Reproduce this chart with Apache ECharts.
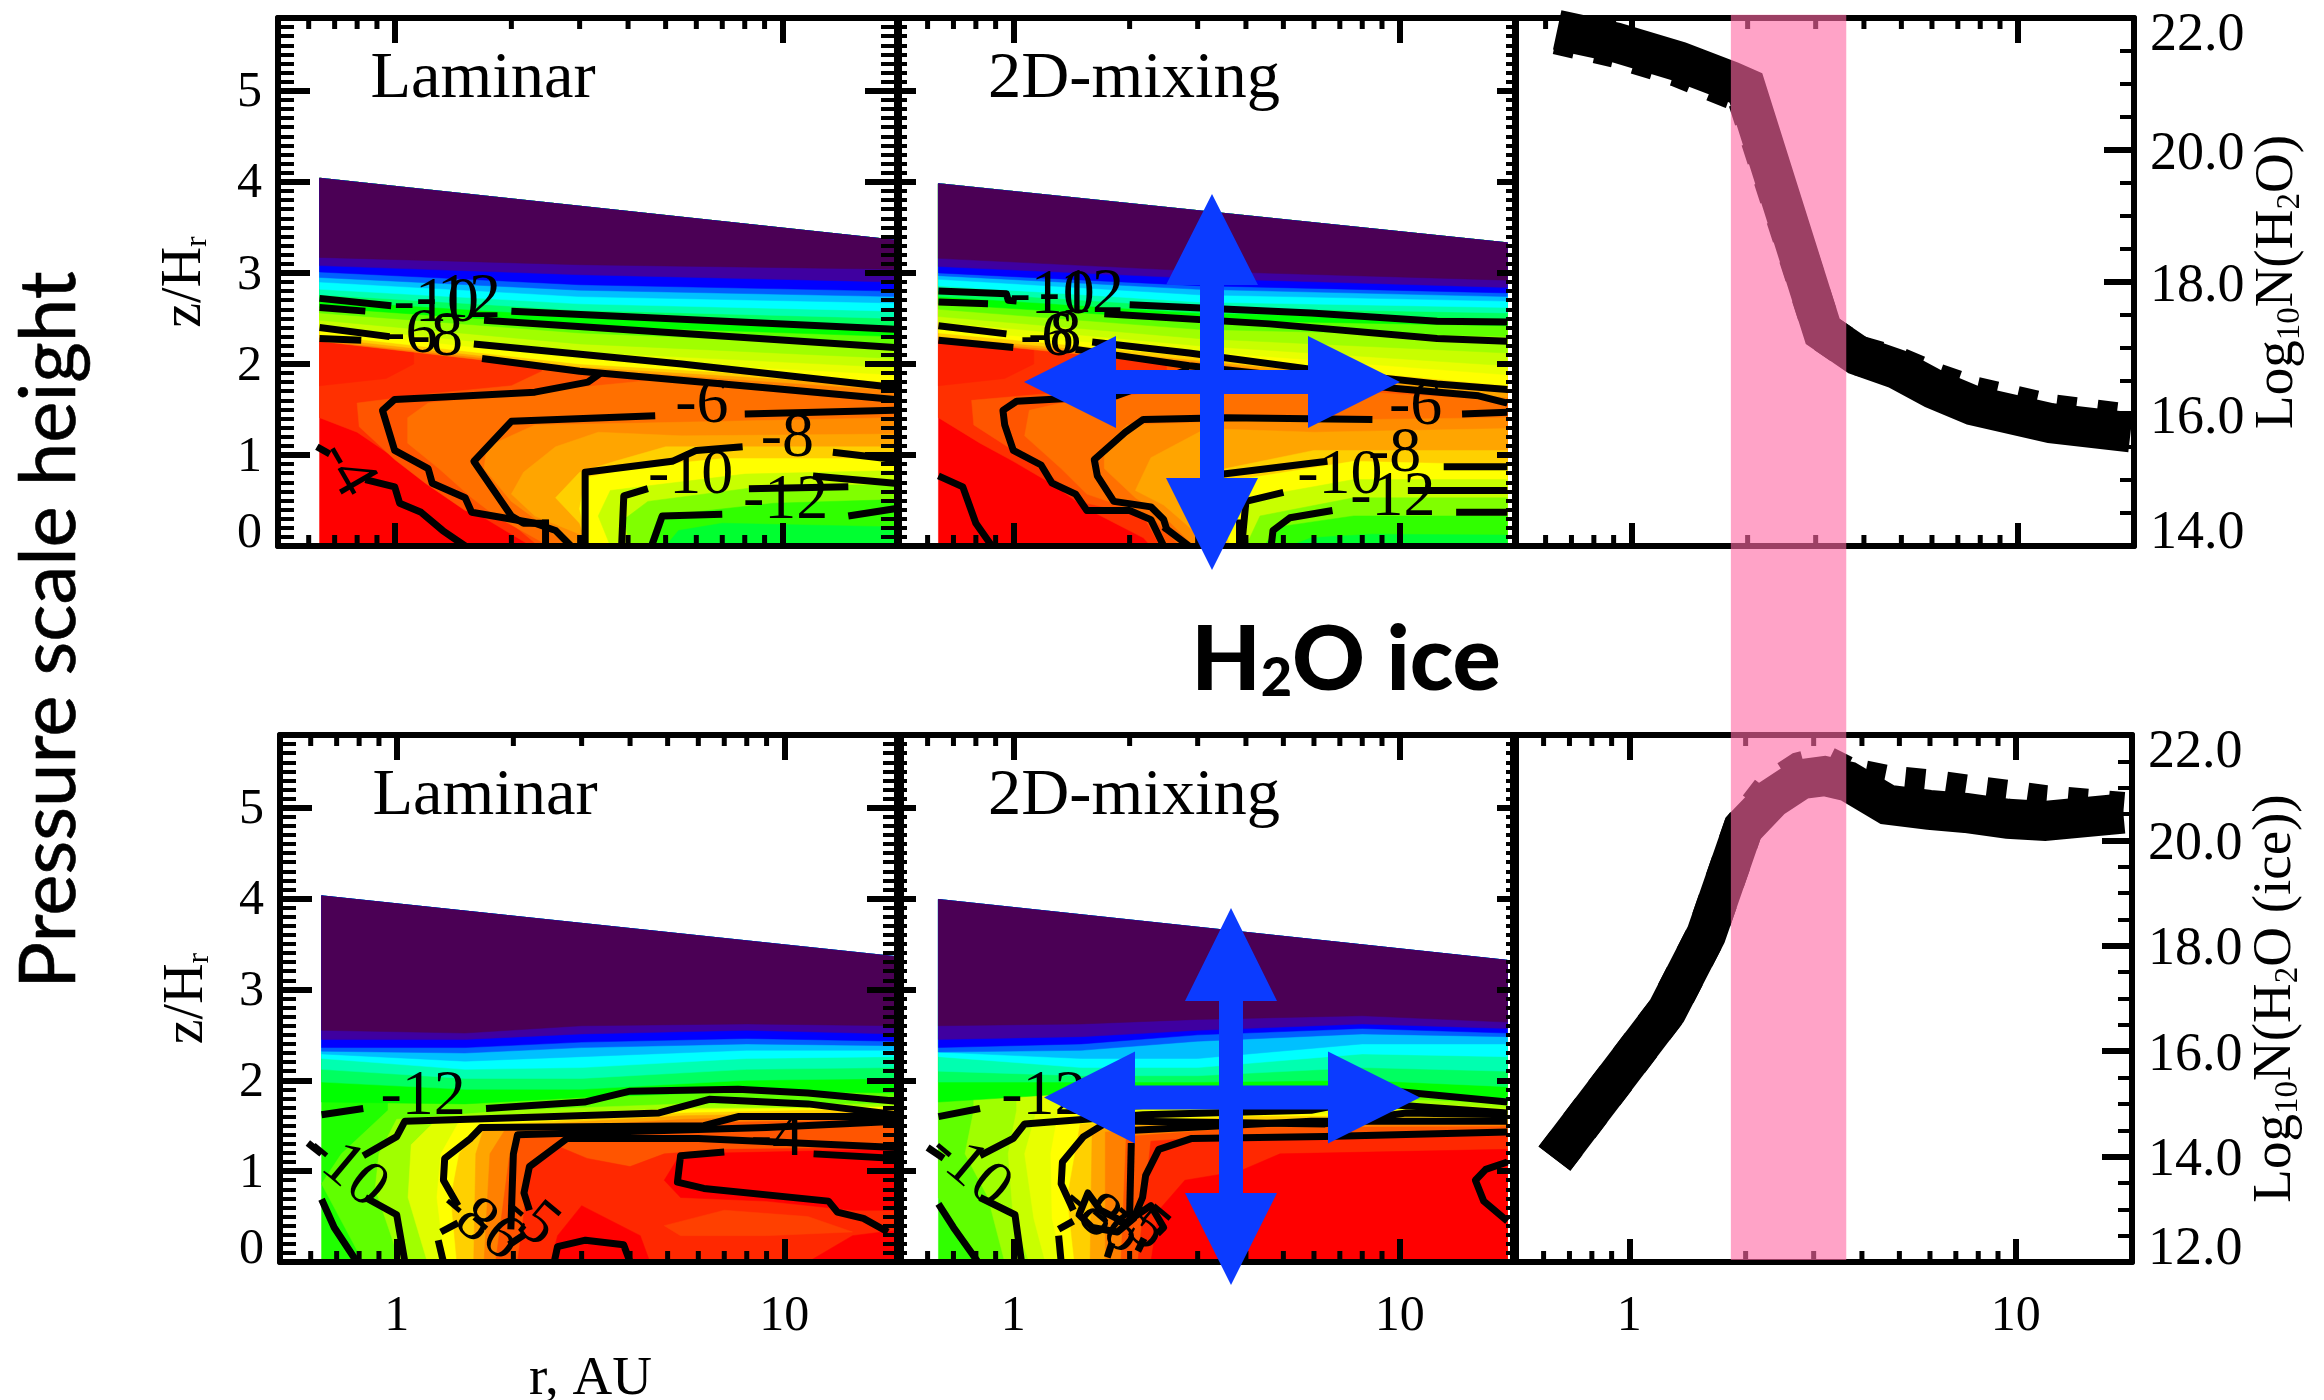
<!DOCTYPE html>
<html><head><meta charset="utf-8"><title>H2O and H2O ice</title>
<style>html,body{margin:0;padding:0;background:#fff}#c{width:2324px;height:1400px}</style>
<script src="https://cdn.jsdelivr.net/npm/echarts@6/dist/echarts.min.js"></script></head>
<body><div id="c"></div>
<script>
// ---------- tick values ----------
const xRange=[0.5,20];
const xMajorLabels=[1,10];
const xMinorTicks=[0.6,0.7,0.8,0.9,2,3,4,5,6,7,8,9];
const zRange=[0,5.8];
const h2oRange=[14,22];
const iceRange=[12,22];
// ---------- filled colour levels (r, AU ; z/Hr) ----------
const strataColors=['#ff8000','#ffa500','#ffd000','#ffff00','#e8ff00','#c8ff00','#a0ff00','#60ff00','#00ff00','#00ff60','#00ffb0','#00ffff','#00c0ff','#0060ff','#0000ff','#3f00a0','#4b0055'];
const laminarTopStations=[0.64,3,19.5];
const laminarTopEdge=[[0.64,4.04],[19.5,3.36]];
const laminarTopStrata=[[2.25,1.92,1.63],[2.26,1.95,1.71],[2.29,1.97,1.76],[2.32,2.0,1.80],[2.37,2.06,1.88],[2.42,2.13,1.96],[2.48,2.22,2.06],[2.56,2.34,2.20],[2.62,2.42,2.30],[2.70,2.52,2.42],[2.76,2.59,2.50],[2.82,2.66,2.58],[2.90,2.74,2.67],[2.95,2.81,2.74],[3.01,2.87,2.80],[3.08,2.98,2.90],[3.17,3.09,3.04]];
const laminarTopPockets=[
['#ff0000',[[0.64,0],[19.5,0],[19.5,3],[0.64,3]]],
['#ff3000',[[0.64,1.41],[0.8,1.25],[1,0.97],[1.2,0.73],[1.5,0.45],[2,0.13],[2.25,0],[19.5,0],[19.5,3],[0.64,3]]],
['#ff2000',[[0.64,3],[0.64,1.76],[0.95,1.84],[1.12,2.0],[1.12,3]]],
['#ff5500',[[0.8,1.57],[0.81,1.31],[1,0.95],[1.2,0.69],[1.52,0.39],[2,0.25],[2.35,0],[19.5,0],[19.5,3],[2.4,3],[2.4,1.92],[2,1.76],[1.22,1.67]]],
['#ff7000',[[1.08,1.41],[1.08,1.13],[1.3,0.85],[1.58,0.53],[1.82,0.33],[2.5,0],[19.5,0],[19.5,1.57],[9.6,1.69],[4.6,1.82],[2,1.67],[1.22,1.57]]],
['#ff8c00',[[19.5,1.41],[4.3,1.35],[2.3,1.33],[1.73,1.09],[1.7,0.85],[2,0.49],[2.25,0.33],[2.8,0],[19.5,0]]],
['#ffa500',[[19.5,1.23],[5.5,1.21],[3.35,1.25],[2.6,1.09],[2.15,0.81],[2,0.57],[2.3,0.33],[3,0.13],[3.1,0],[19.5,0]]],
['#ffd000',[[19.5,1.09],[5,1.09],[3.7,0.93],[3,0.81],[2.6,0.53],[3,0.25],[3.15,0],[19.5,0]]],
['#ffff00',[[19.5,0.96],[7,0.96],[4.3,0.87],[3.1,0.75],[3,0.41],[3.15,0],[19.5,0]]],
['#c8ff00',[[19.5,0.83],[8,0.79],[3.6,0.61],[3.35,0.33],[3.6,0],[19.5,0]]],
['#80ff00',[[19.5,0.67],[9.5,0.67],[4.5,0.49],[3.9,0.29],[4.05,0],[19.5,0]]],
['#30ff00',[[19.5,0.51],[9.5,0.47],[4.8,0.33],[4.5,0],[19.5,0]]],
['#00ff30',[[19.5,0.21],[7,0.25],[5.4,0.17],[5,0],[19.5,0]]]];
const mixingTopStations=[0.64,3,19];
const mixingTopEdge=[[0.64,3.98],[19,3.33]];
const mixingTopStrata=[[2.26,1.98,1.57],[2.27,2.02,1.63],[2.30,2.04,1.70],[2.34,2.08,1.76],[2.38,2.14,1.88],[2.46,2.20,1.98],[2.52,2.28,2.12],[2.60,2.38,2.30],[2.66,2.48,2.42],[2.74,2.56,2.50],[2.80,2.62,2.56],[2.86,2.68,2.62],[2.93,2.76,2.69],[2.97,2.82,2.74],[3.0,2.86,2.78],[3.07,2.94,2.84],[3.16,3.02,2.92]];
const mixingTopPockets=[
['#ff0000',[[0.64,0],[19,0],[19,3],[0.64,3]]],
['#ff3000',[[0.64,1.41],[0.82,1.13],[1,0.93],[1.25,0.69],[1.55,0.41],[2.17,0.09],[2.27,0],[19,0],[19,3],[0.64,3]]],
['#ff2000',[[0.64,3],[0.64,1.76],[0.95,1.84],[1.13,2.0],[1.13,3]]],
['#ff5500',[[0.78,1.6],[0.79,1.33],[1,1.05],[1.25,0.77],[1.55,0.47],[2.17,0.33],[2.4,0],[19,0],[19,3],[2.5,3],[2.5,1.92],[2,1.76],[1.2,1.67]]],
['#ff7000',[[1.1,1.49],[1.07,1.21],[1.33,0.85],[1.55,0.57],[2.27,0.33],[2.7,0],[19,0],[19,1.6],[9.8,1.67],[4.6,1.76],[2.17,1.67],[1.33,1.57]]],
['#ff8c00',[[19,1.41],[3.7,1.37],[1.97,1.33],[1.72,1.09],[1.72,0.85],[2.07,0.53],[2.45,0.33],[2.93,0],[19,0]]],
['#ffa500',[[19,1.29],[6,1.25],[3.15,1.29],[2.27,0.97],[2.07,0.61],[2.45,0.45],[3.25,0],[19,0]]],
['#ffd000',[[19,1.05],[6,1.05],[3.55,0.85],[2.85,0.65],[2.85,0.41],[3.55,0],[19,0]]],
['#ffff00',[[19,0.89],[7.6,0.93],[3.85,0.73],[3.4,0.41],[3.65,0],[19,0]]],
['#c8ff00',[[19,0.73],[7.6,0.73],[4.15,0.53],[3.75,0],[19,0]]],
['#80ff00',[[19,0.53],[7.6,0.53],[4.35,0.33],[4,0],[19,0]]],
['#30ff00',[[19,0.33],[7.6,0.33],[4.85,0.21],[4.45,0],[19,0]]],
['#00ff30',[[19,0.12],[8.5,0.13],[5.9,0.09],[5.2,0],[19,0]]]];
const laminarIceStations=[0.64,1.5,3,8,19.5];
const laminarIceEdge=[[0.64,4.03],[19.5,3.36]];
const laminarIceStrata=[[1.76,1.74,1.81,1.88,1.86],[1.98,1.90,1.90,2.0,2.02],[2.12,2.02,2.02,2.12,2.14],[2.24,2.12,2.14,2.24,2.26],[2.29,2.21,2.26,2.33,2.33],[2.32,2.30,2.36,2.40,2.38],[2.36,2.36,2.42,2.46,2.43],[2.45,2.45,2.51,2.55,2.51],[2.55,2.52,2.60,2.62,2.60]];
const laminarIcePockets=[
['#20ff00',[[0.64,0],[19.5,0],[19.5,3],[0.64,3]]],
['#60ff00',[[0.95,1.67],[0.72,1.19],[0.64,0.86],[0.82,0],[19.5,0],[19.5,2.0],[0.95,2]]],
['#a0ff00',[[1,1.57],[0.9,1.19],[0.88,0.81],[1.02,0],[19.5,0],[19.5,1.74],[5.5,1.74],[2,1.67]]],
['#e0ff00',[[1.27,1.57],[1.09,1.29],[1.07,0.71],[1.2,0],[19.5,0],[19.5,1.70],[5.5,1.69],[2,1.62]]],
['#ffff00',[[1.45,1.55],[1.3,1.19],[1.27,0.71],[1.33,0],[19.5,0],[19.5,1.71],[5.5,1.67],[2,1.57]]],
['#ffd000',[[1.65,1.5],[1.45,1.19],[1.38,0.71],[1.43,0],[19.5,0],[19.5,1.69],[5.5,1.64]]],
['#ffa500',[[1.68,1.48],[1.6,1.19],[1.58,0],[19.5,0],[19.5,1.65],[5.5,1.61]]],
['#ff8000',[[1.9,1.45],[1.74,1.19],[1.68,0],[19.5,0],[19.5,1.62],[5.5,1.57]]],
['#ff5500',[[2.07,1.43],[1.95,1.14],[1.8,0],[19.5,0],[19.5,1.57],[5.5,1.53]]],
['#ff2800',[[2.55,1.29],[2.2,1.0],[2.05,0],[19.5,0],[19.5,1.26],[7,1.24],[4.9,1.19],[4,1.05],[3.1,1.14]]],
['#ff0000',[[19.5,1.24],[5.4,1.19],[4.9,0.9],[5.4,0.71],[9,0.67],[15,0.57],[19.5,0.57]]],
['#ff0000',[[15,0.29],[19.5,0.35],[19.5,0],[11.5,0]]],
['#ff0000',[[3,0.62],[2.6,0.29],[2.5,0],[4.5,0],[4.25,0.29]]],
['#ff4000',[[4.9,0.4],[7,0.57],[11.5,0.5],[15,0.33],[9,0.29],[5.4,0.29]]]];
const mixingIceStations=[0.64,1.5,3,8,19];
const mixingIceEdge=[[0.64,3.99],[19,3.32]];
const mixingIceStrata=[[1.76,1.86,1.86,1.88,1.76],[1.98,1.98,1.98,2.0,1.93],[2.10,2.05,2.05,2.14,2.10],[2.26,2.14,2.14,2.29,2.26],[2.31,2.24,2.24,2.40,2.40],[2.31,2.33,2.43,2.51,2.48],[2.36,2.40,2.50,2.57,2.52],[2.45,2.48,2.55,2.62,2.57],[2.6,2.62,2.67,2.71,2.64]];
const mixingIcePockets=[
['#30ff00',[[0.64,0],[19,0],[19,3],[0.64,3]]],
['#60ff00',[[0.64,2],[0.64,0.71],[0.82,0],[19,0],[19,2]]],
['#a0ff00',[[0.79,1.67],[0.75,1.19],[0.86,0.71],[0.95,0],[19,0],[19,1.74],[0.79,2]]],
['#c8ff00',[[1.02,1.67],[0.97,1.19],[1,0.48],[1.1,0],[19,0],[19,1.69],[1.02,2]]],
['#e8ff00',[[1.15,1.67],[1.07,1.19],[1.13,0.48],[1.21,0],[19,0],[19,1.67],[1.15,1.9]]],
['#ffff00',[[1.31,1.67],[1.25,1.19],[1.26,0.48],[1.34,0],[19,0],[19,1.64],[2,1.62]]],
['#ffd000',[[1.49,1.52],[1.38,0.71],[1.44,0],[19,0],[19,1.61],[4,1.6]]],
['#ffa500',[[1.6,1.48],[1.58,0],[19,0],[19,1.57],[4,1.56]]],
['#ff8000',[[1.73,1.43],[1.73,0],[19,0],[19,1.53],[4,1.52]]],
['#ff5500',[[1.96,1.38],[1.9,0],[19,0],[19,1.49],[4,1.48]]],
['#ff2800',[[2.27,1.33],[2.1,0],[19,0],[19,1.43],[4,1.4]]],
['#ff0000',[[2.38,0.57],[2.27,0],[19,0],[19,1.24],[4.9,1.19],[3.85,1.0],[2.78,0.9]]]];
// ---------- black contour lines ----------
const laminarTopContours=[
[[0.64,2.72],[0.98,2.64]],[[2,2.58],[19.5,2.38]],[[0.64,2.62],[0.84,2.58]],[[1.7,2.48],[19.5,2.18]],
[[0.64,2.40],[0.97,2.30]],[[1.6,2.22],[5.5,2.0],[19.5,1.74]],[[0.64,2.28],[0.82,2.26]],[[1.68,2.06],[3,1.92],[9.5,1.73],[19.5,1.61]],
[[3.4,1.9],[3.15,1.80],[2.3,1.69],[1.55,1.65],[1,1.61],[0.93,1.49],[1,1.05],[1.22,0.85],[1.25,0.69],[1.52,0.53],[1.58,0.37],[2.3,0.25],[2.6,0.17],[2.85,0]],
[[19.5,1.49],[8,1.45]],[[4.7,1.43],[2,1.37],[1.6,0.93],[2,0.33],[2.15,0.25],[2.5,0.25]],[[2.45,0.29],[2.45,0]],
[[19.5,0.95],[13.5,1.03]],[[7.9,1.09],[6,1.05],[5.2,0.93],[3.1,0.81],[3.1,0]],
[[19.5,0.69],[12,0.77]],[[8.2,0.63],[14.8,0.65]],[[4.5,0.63],[3.9,0.55],[3.85,0]],
[[19.5,0.41],[14.8,0.33]],[[7,0.35],[4.9,0.33],[4.6,0]],
[[0.63,1.09],[0.68,1.01]],[[0.84,0.73],[1,0.65],[1.03,0.47],[1.17,0.37],[1.33,0.17],[1.52,0]]];
const mixingTopContours=[
[[0.64,2.80],[0.96,2.77],[0.97,2.70],[1.02,2.69]],[[2,2.65],[5.9,2.56],[12.5,2.47],[19,2.46]],[[0.64,2.68],[0.86,2.66]],[[1.72,2.55],[4.6,2.44],[12.5,2.28],[19,2.25]],
[[0.64,2.42],[0.96,2.33]],[[1.6,2.24],[2.85,2.12],[7.6,1.88],[12.5,1.78],[19,1.72]],[[0.64,2.26],[1,2.18]],[[1.45,2.16],[2.85,1.98],[9.8,1.73],[16,1.65],[19,1.57]],
[[2.85,1.94],[1.85,1.65],[1.38,1.62],[1.02,1.59],[0.94,1.49],[0.95,1.33],[1,1.05],[1.18,0.89],[1.26,0.69],[1.45,0.57],[1.55,0.39],[2,0.39],[2.27,0.29],[2.45,0]],
[[19,1.47],[14.5,1.45]],[[8.5,1.39],[3.55,1.41],[2.17,1.39],[1.95,1.25],[1.62,0.95],[1.65,0.77],[1.82,0.49],[2.27,0.43],[2.45,0.29],[2.5,0.17]],[[2.45,0.21],[2.85,0]],
[[19,0.87],[13,0.87]],[[6.5,0.93],[3.5,0.79]],[[3.85,0.29],[3.85,0]],
[[19,0.61],[10.5,0.61]],[[5,0.59],[4,0.49],[3.9,0]],
[[19,0.37],[14,0.37]],[[6.7,0.39],[5.2,0.31],[4.7,0.17],[4.65,0]],
[[0.64,0.77],[0.74,0.65],[0.8,0.25],[0.88,0]]];
const laminarIceContours=[
[[0.64,1.62],[0.82,1.69]],[[1.7,1.69],[3.05,1.76],[4,1.88],[7.6,1.9],[11.5,1.86],[19.5,1.77]],
[[0.82,1.17],[1,1.38],[1.05,1.55],[2.55,1.6],[4.75,1.64],[6.4,1.79],[11.5,1.74],[19.5,1.62]],
[[0.83,0.71],[1,0.52],[1.05,0]],[[0.64,0.69],[0.69,0.38],[0.79,0]],[[0.59,1.31],[0.64,1.19]],
[[19.5,1.6],[7.6,1.6],[6.2,1.5],[1.65,1.48],[1.55,1.36],[1.33,1.14],[1.32,0.9],[1.44,0.62]],[[1.28,0.24],[1.32,0]],
[[19.5,1.55],[9,1.48],[2.05,1.4],[2,1.19],[1.97,0.36]],
[[19.5,1.26],[6,1.36],[2.75,1.36],[2.2,1.05],[2.13,0.76],[2.2,0.57]],
[[11.9,1.19],[19.5,1.14]],[[7,1.21],[5.4,1.17],[5.3,0.88],[6.2,0.81],[13,0.67],[13.7,0.55],[16,0.48],[18.5,0.33]],
[[2.55,0],[2.6,0.17],[3.07,0.24],[3.85,0.19],[4,0]],[[1.3,0.33],[1.44,0.43]],[[1.95,0.19],[2.15,0.31]]];
const mixingIceContours=[
[[0.64,1.6],[0.82,1.69]],[[1.49,1.69],[5.9,1.81],[9.7,1.88],[19,1.76]],
[[0.82,1.17],[1,1.36],[1.07,1.52],[2.17,1.62],[5.9,1.67],[7.6,1.76],[19,1.64]],
[[0.82,0.71],[1.01,0.52],[1.05,0]],[[0.64,0.64],[0.7,0.38],[0.78,0.1],[0.81,0]],[[0.6,1.26],[0.66,1.14]],
[[1.72,1.52],[1.52,1.38],[1.34,1.1],[1.33,0.86],[1.43,0.57]],[[1.31,0.29],[1.33,0]],
[[2.05,1.45],[5.9,1.55],[10.4,1.55],[19,1.55]],[[2.02,1.31],[2,0.52]],[[19,1.62],[10.4,1.64],[6.4,1.52],[2.05,1.55]],
[[19,1.43],[6.4,1.38],[2.9,1.36],[2.38,1.24],[2.2,0.95],[2.16,0.71],[2.05,0.48],[1.86,0.33],[1.6,0.38],[1.48,0.52],[1.56,0.76],[1.68,0.57],[1.95,0.43],[2.27,0.62],[2.45,0.38],[2.36,0.31]],
[[19,1.1],[16.7,1.02],[15.7,0.9],[16.5,0.67],[19,0.45]],
[[1.31,0.36],[1.43,0.45]],[[1.75,0.05],[1.8,0.21]],[[2.1,0.12],[2.18,0.26]]];
// ---------- contour labels: r, z, text, clockwise turn in degrees ----------
const laminarTopLabels=[[1.46,2.70,'-12',0],[1.28,2.66,'-10',0],[1.1,2.32,'-6',0],[1.28,2.28,'-8',0],[6.2,1.55,'-6',0],[10.3,1.17,'-8',0],[5.8,0.77,'-10',0],[10.2,0.49,'-12',0],[0.75,0.85,'-4',60]];
const mixingTopLabels=[[1.5,2.76,'-12',0],[1.26,2.74,'-10',0],[1.22,2.28,'-6',0],[1.28,2.30,'-8',0],[11,1.53,'-6',0],[9.7,1.01,'-8',0],[7,0.77,'-10',0],[9.6,0.53,'-12',0]];
const laminarIceLabels=[[1.17,1.81,'-12',0],[0.74,1.02,'-10',40],[1.52,0.52,'-8',40],[1.78,0.33,'-6',40],[2.2,0.48,'-5',40],[9.6,1.36,'-4',0]];
const mixingIceLabels=[[1.2,1.81,'-12',0],[0.77,1.02,'-10',40],[1.58,0.57,'-8',40],[1.82,0.4,'-6',40],[2.12,0.43,'-5',40]];
// ---------- column densities ----------
const h2oR=[0.643,0.91,1.33,1.81,1.98,3.13,3.85,4.87,6.06,7.66,12.2,19.6];
const h2oLaminar=[21.82,21.63,21.34,21.04,20.94,17.25,16.89,16.68,16.38,16.13,15.86,15.72];
const h2oMixing=[21.75,21.55,21.25,20.93,20.85,17.25,16.89,16.72,16.48,16.27,16.0,15.85];
const iceR=[0.64,1.25,1.58,1.97,2.34,2.78,3.2,3.68,4.65,5.97,7.43,9.55,11.9,19];
const iceLaminar=[13.96,16.76,18.21,20.23,20.8,21.16,21.22,21.12,20.68,20.58,20.52,20.41,20.37,20.51];
const iceMixing=[13.96,16.76,18.21,20.23,20.95,21.3,21.42,21.2,21.05,20.97,20.87,20.77,20.67,20.54];
const pinkBandR=[1.81,3.6];
const pinkBandV=[22.05,3.18];

const SERIF='"Liberation Serif"';
const BLACK='#000', BLUE='#0b3bff';
const panels=[
 {l:278,r:899,t:18,b:546,y:zRange,iv:1,minor:10,kind:'left',strata:laminarTopStrata,st:laminarTopStations,colors:strataColors,edge:laminarTopEdge,pockets:laminarTopPockets,cont:laminarTopContours,lab:laminarTopLabels,name:'z'},
 {l:897,r:1516,t:18,b:546,y:zRange,iv:1,minor:10,kind:'mid',strata:mixingTopStrata,st:mixingTopStations,colors:strataColors,edge:mixingTopEdge,pockets:mixingTopPockets,cont:mixingTopContours,lab:mixingTopLabels},
 {l:1515,r:2134,t:18,b:546,y:h2oRange,iv:2,minor:4,kind:'right',name:'N',lines:[h2oR,h2oLaminar,h2oMixing]},
 {l:280,r:901,t:735,b:1262,y:zRange,iv:1,minor:10,kind:'left',xlab:true,xname:true,strata:laminarIceStrata,st:laminarIceStations,colors:strataColors.slice(8),edge:laminarIceEdge,pockets:laminarIcePockets,cont:laminarIceContours,lab:laminarIceLabels,name:'z'},
 {l:897,r:1516,t:735,b:1262,y:zRange,iv:1,minor:10,kind:'mid',xlab:true,strata:mixingIceStrata,st:mixingIceStations,colors:strataColors.slice(8),edge:mixingIceEdge,pockets:mixingIcePockets,cont:mixingIceContours,lab:mixingIceLabels},
 {l:1513,r:2132,t:735,b:1262,y:iceRange,iv:2,minor:4,kind:'right',xlab:true,name:'I',lines:[iceR,iceLaminar,iceMixing]}
];
const grids=[],xAxes=[],yAxes=[],series=[];
const isDecade=v=>xMajorLabels.some(m=>Math.abs(m-v)<1e-6);
const rich={m:{fontFamily:SERIF,fontSize:55,color:BLACK},s:{fontFamily:SERIF,fontSize:33,color:BLACK,verticalAlign:'bottom',padding:[26,0,0,0]},
 zm:{fontFamily:SERIF,fontSize:56,color:BLACK},zs:{fontFamily:SERIF,fontSize:32,color:BLACK,verticalAlign:'bottom',padding:[26,0,0,0]}};
const axisNames={z:'{zm|z/H}{zs|r}',N:'{m|Log}{s|10}{m|N(H}{s|2}{m|O)}',I:'{m|Log}{s|10}{m|N(H}{s|2}{m|O (ice))}'};
const tickRich=(size,midPad)=>{const f={fontFamily:SERIF,fontSize:size,color:BLACK};
 return {mid:Object.assign({},f,{padding:[midPad,0,0,0]}),low:Object.assign({},f,{padding:[0,0,25,0]}),high:Object.assign({},f,{padding:[35,0,0,0]})};};
panels.forEach((p,i)=>{
 grids.push({left:p.l,top:p.t,width:p.r-p.l,height:p.b-p.t,show:false,outerBoundsMode:'none',containLabel:false});
 const xBase={type:'log',logBase:10,min:xRange[0],max:xRange[1],gridIndex:i,z:10,splitLine:{show:false},minorTick:{show:false},minorSplitLine:{show:false},
  axisLine:{show:true,onZero:false,lineStyle:{color:BLACK,width:6}}};
 xAxes.push(Object.assign({},xBase,{position:'bottom',
  axisTick:{show:true,inside:true,length:23,lineStyle:{color:BLACK,width:6},customValues:xMajorLabels},
  axisLabel:{show:!!p.xlab,margin:30,fontFamily:SERIF,fontSize:50,color:BLACK,customValues:xMajorLabels,formatter:v=>isDecade(v)?String(Math.round(v)):''},
  name:p.xname?'r, AU':'',nameLocation:'middle',nameGap:90,nameTextStyle:{fontFamily:SERIF,fontSize:55,color:BLACK}}));
 xAxes.push(Object.assign({},xBase,{position:'top',
  axisTick:{show:true,inside:true,length:25,lineStyle:{color:BLACK,width:6},customValues:xMajorLabels},axisLabel:{show:false}}));
 const yBase={type:'value',min:p.y[0],max:p.y[1],interval:p.iv,gridIndex:i,z:10,splitLine:{show:false},
  axisLine:{show:true,onZero:false,lineStyle:{color:BLACK,width:6}}};
 const lenL=p.kind==='left'?[32,16]:[19,10], lenR=p.kind==='left'?[34,18]:p.kind==='mid'?[19,10]:[30,14];
 const tick=(len,show)=>({axisTick:{show,inside:true,length:len[0],lineStyle:{color:BLACK,width:6}},
   minorTick:{show,splitNumber:p.minor,length:len[1],lineStyle:{color:BLACK,width:4}}});
 const lab=(show,fmt,size,midPad)=>({show,margin:16,formatter:fmt,rich:tickRich(size,midPad)});
 yAxes.push(Object.assign({},yBase,{position:'left'},tick(lenL,p.kind!=='right'),
   {axisLabel:lab(p.kind==='left',v=>!Number.isInteger(v)?'':v===p.y[0]?'{low|'+v+'}':'{mid|'+v+'}',50,5)},
   p.kind==='left'?{name:axisNames.z,nameLocation:'middle',nameGap:64,nameRotate:90,nameTextStyle:{rich}}:{}));
 yAxes.push(Object.assign({},yBase,{position:'right'},tick(lenR,true),
   {axisLabel:lab(p.kind==='right',v=>(v===p.y[0]?'{low|':v===p.y[1]?'{high|':'{mid|')+v.toFixed(1)+'}',54,9)},
   p.kind==='right'?{name:axisNames[p.name],nameLocation:'middle',nameGap:114,nameRotate:90,nameTextStyle:{rich}}:{}));
 const xi=2*i, yi=p.kind==='right'?2*i+1:2*i;
 const base={xAxisIndex:xi,yAxisIndex:yi,animation:false,silent:true};
 if(p.pockets){
  const polys=p.pockets.map(q=>({color:q[0],pts:q[1]}));
  p.strata.forEach((row,k)=>{
   polys.push({color:p.colors[k],pts:row.map((z,j)=>[p.st[j],z]).concat([p.edge[1],p.edge[0]])});
  });
  series.push(Object.assign({},base,{type:'custom',name:'field'+i,z:1,clip:true,data:polys.map(()=>[1,1]),
   renderItem:(a,api)=>{const q=polys[a.dataIndex];
    return {type:'polygon',shape:{points:q.pts.map(pt=>api.coord(pt))},style:{fill:q.color,stroke:q.color,lineWidth:0.5}};}}));
  p.cont.forEach((seg,k)=>series.push(Object.assign({},base,{type:'line',name:'contour'+i+'_'+k,z:3,data:seg,symbol:'none',clip:true,
    lineStyle:{color:BLACK,width:7,join:'round',cap:'butt'}})));
  series.push(Object.assign({},base,{type:'custom',name:'contourLabels'+i,z:5,data:p.lab.map(q=>[q[0],q[1]]),
   renderItem:(a,api)=>{const q=p.lab[a.dataIndex],c=api.coord([q[0],q[1]]);
    return {type:'text',x:c[0],y:c[1],rotation:-q[3]*Math.PI/180,
     style:{text:q[2],fontFamily:SERIF,fontSize:64,fill:BLACK,align:'center',verticalAlign:'middle'}};}}));
 }
 if(p.lines){
  const [r,sol,dash]=p.lines;
  const pts=a=>r.map((x,k)=>[x,a[k]]);
  series.push(Object.assign({},base,{type:'line',name:'Laminar'+i,z:3,clip:false,data:pts(sol),symbol:'none',lineStyle:{color:BLACK,width:40,cap:'butt',join:'miter'}}));
  series.push(Object.assign({},base,{type:'line',name:'2D-mixing'+i,z:3,clip:false,data:pts(dash),symbol:'none',lineStyle:{color:BLACK,width:40,cap:'butt',join:'miter',type:[20,21]}}));
 }
 series.push(Object.assign({},base,{type:'custom',name:'xMinor'+i,z:11,data:xMinorTicks.map(v=>[v,p.y[0]]),
  renderItem:(a,api)=>{const v=api.value(0),b=api.coord([v,p.y[0]]),t=api.coord([v,p.y[1]]);
   const st={stroke:BLACK,lineWidth:5};
   return {type:'group',children:[
    {type:'line',shape:{x1:b[0],y1:b[1],x2:b[0],y2:b[1]-11},style:st},
    {type:'line',shape:{x1:t[0],y1:t[1],x2:t[0],y2:t[1]+11},style:st}]};}}));
});
// shaded radial band, runs through both right-hand panels
series.push({type:'custom',name:'snow line band',xAxisIndex:4,yAxisIndex:5,z:20,animation:false,silent:true,clip:false,data:[[pinkBandR[0],pinkBandV[0]]],
 renderItem:(a,api)=>{const c=(x,y)=>api.coord([x,y]);
  return {type:'polygon',shape:{points:[c(pinkBandR[0],pinkBandV[0]),c(pinkBandR[1],pinkBandV[0]),c(pinkBandR[1],pinkBandV[1]),c(pinkBandR[0],pinkBandV[1])]},style:{fill:'rgba(255,104,163,0.61)'}};}});
// decorations
function crossArrow(cx,cy,vTop,vBase1,vBase2,vBot,hL,hB1,hB2,hR,vHalf,hHalf,shaft){
 const s=shaft/2;
 return {type:'polygon',z:100,silent:true,shape:{points:[
  [cx,vTop],[cx+vHalf,vBase1],[cx+s,vBase1],[cx+s,cy-s],[hB2,cy-s],[hB2,cy-hHalf],[hR,cy],[hB2,cy+hHalf],[hB2,cy+s],[cx+s,cy+s],[cx+s,vBase2],[cx+vHalf,vBase2],
  [cx,vBot],[cx-vHalf,vBase2],[cx-s,vBase2],[cx-s,cy+s],[hB1,cy+s],[hB1,cy+hHalf],[hL,cy],[hB1,cy-hHalf],[hB1,cy-s],[cx-s,cy-s],[cx-s,vBase1],[cx-vHalf,vBase1]]},
  style:{fill:BLUE}};
}
const tx=(x,y,text,font,size,extra)=>Object.assign({type:'text',x,y,z:100,silent:true,style:{text,fontFamily:font,fontSize:size,fill:BLACK,align:'center',verticalAlign:'middle'}},extra||{});
const graphic=[
 crossArrow(1212,382,194,285,478,570,1024,1116,1308,1400,46,46,24),
 crossArrow(1231,1097.5,908,1001,1193,1285,1044,1135,1328,1420,46,46,24),
 tx(483,80,'Laminar',SERIF,66.5),tx(1134,80,'2D-mixing',SERIF,66.5),
 tx(485,797,'Laminar',SERIF,66.5),tx(1134,797,'2D-mixing',SERIF,66.5),
 {type:'text',x:50,y:630,z:100,silent:true,rotation:Math.PI/2,style:{text:'Pressure scale height',fontFamily:'Lato',fontSize:78,fill:BLACK,stroke:BLACK,lineWidth:0.6,align:'center',verticalAlign:'middle'}},
 {type:'text',x:1346,y:661,z:100,silent:true,style:{text:'{a|H}{b|2}{a|O ice}',align:'center',verticalAlign:'middle',
   rich:{a:{fontFamily:'Lato',fontWeight:900,fontSize:90,fill:BLACK},b:{fontFamily:'Lato',fontWeight:900,fontSize:54,fill:BLACK,verticalAlign:'bottom',padding:[24,0,0,0]}}}}
];
const chart=echarts.init(document.getElementById('c'),null,{renderer:'canvas',width:2324,height:1400});
chart.setOption({animation:false,backgroundColor:'#fff',grid:grids,xAxis:xAxes,yAxis:yAxes,series,graphic,tooltip:{show:false}});
</script></body></html>
